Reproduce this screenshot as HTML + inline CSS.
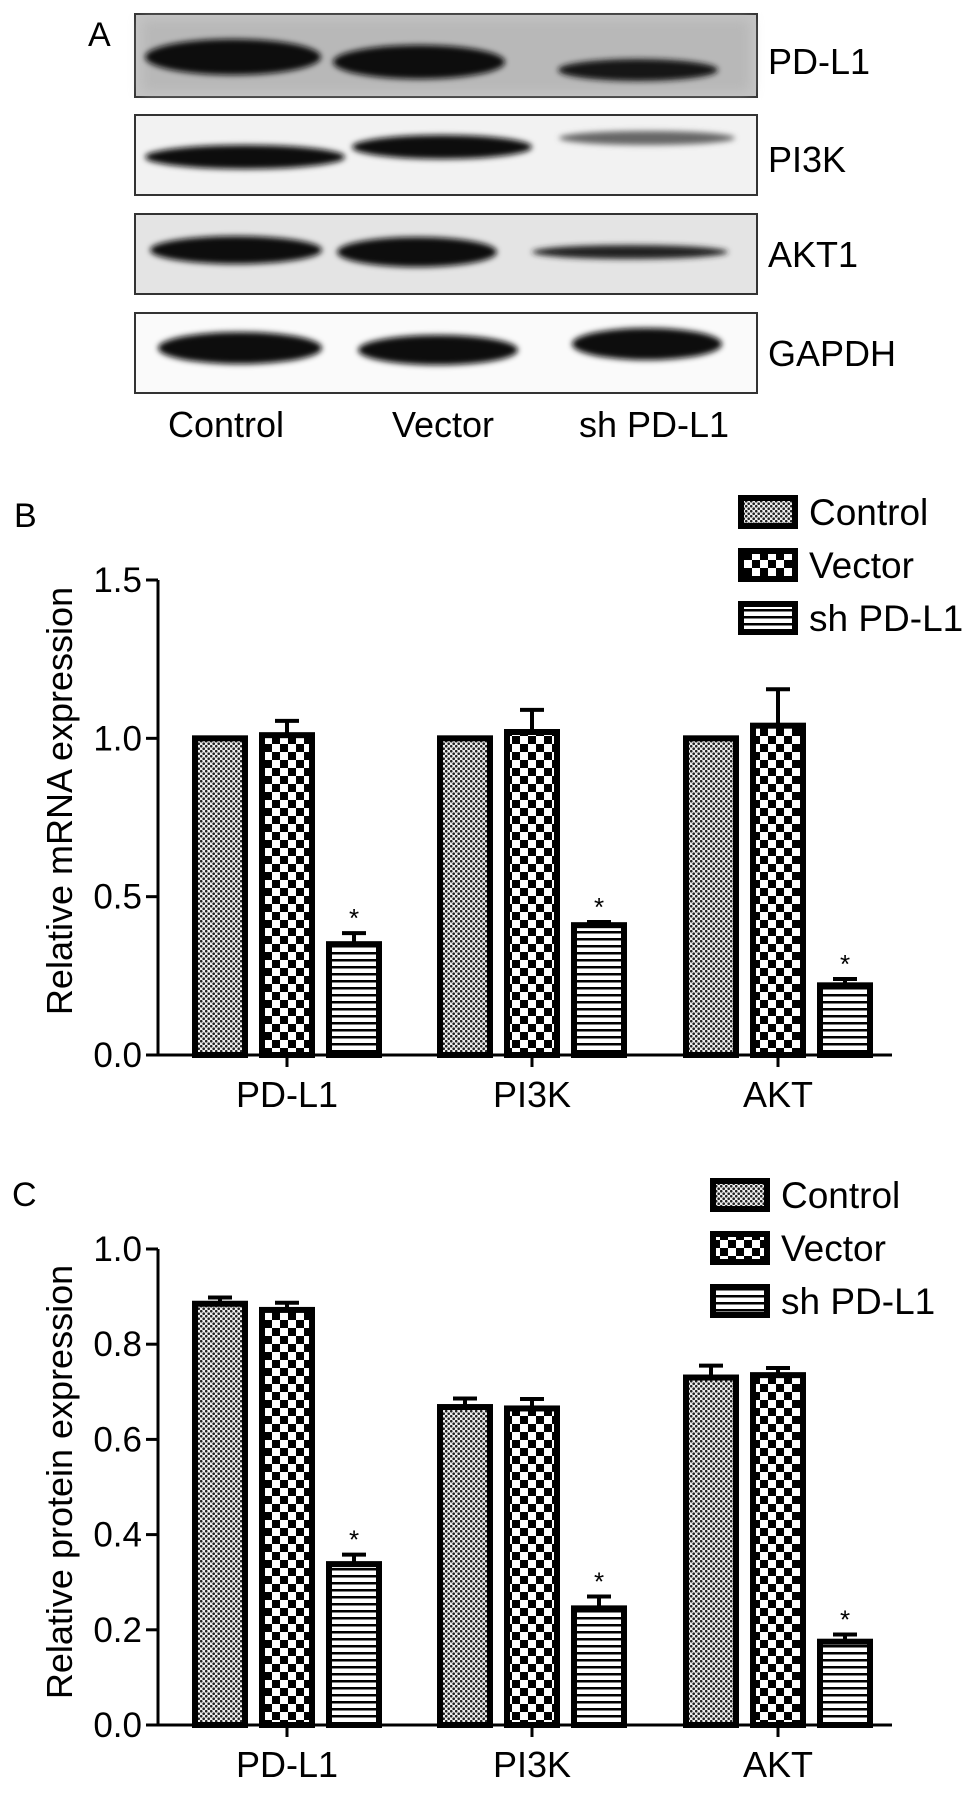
<!DOCTYPE html>
<html><head><meta charset="utf-8"><style>
html,body{margin:0;padding:0;background:#fff;}
svg{display:block;font-family:"Liberation Sans",Arial,sans-serif;}
</style></head><body>
<svg id="fig" width="969" height="1794" viewBox="0 0 969 1794" xmlns="http://www.w3.org/2000/svg">
<defs>
<pattern id="pCtrl" width="5" height="5" patternUnits="userSpaceOnUse"><rect width="5" height="5" fill="#eee"/><circle cx="1.2" cy="1.2" r="1.3" fill="#222"/><circle cx="3.7" cy="3.7" r="1.3" fill="#222"/></pattern>
<pattern id="pVec" width="16" height="16" patternUnits="userSpaceOnUse"><rect width="16" height="16" fill="#fff"/><rect width="8" height="8" fill="#000"/><rect x="8" y="8" width="8" height="8" fill="#000"/></pattern>
<pattern id="pSh" width="8" height="7" patternUnits="userSpaceOnUse"><rect width="8" height="7" fill="#fff"/><rect width="8" height="2.5" fill="#000"/></pattern>
<filter id="blur" x="-20%" y="-80%" width="140%" height="260%"><feGaussianBlur stdDeviation="3"/></filter>
<filter id="blur2"><feGaussianBlur stdDeviation="6"/></filter>
</defs>

<!-- Panel A -->
<text x="88" y="46" font-size="34">A</text>
<g>
<rect x="135" y="14" width="622" height="83" fill="#c4c4c4" stroke="#333" stroke-width="2"/>
<rect x="142" y="20" width="608" height="72" fill="#b8b8b8" filter="url(#blur2)"/>
<ellipse cx="233" cy="57" rx="88" ry="18" fill="#111" filter="url(#blur)"/>
<ellipse cx="419" cy="62" rx="86" ry="17" fill="#111" filter="url(#blur)"/>
<ellipse cx="638" cy="70" rx="80" ry="11" fill="#151515" filter="url(#blur)"/>
</g>
<text x="768" y="74" font-size="36">PD-L1</text>
<g>
<rect x="135" y="115" width="622" height="80" fill="#f2f2f2" stroke="#333" stroke-width="2"/>
<ellipse cx="245" cy="157" rx="100" ry="12" fill="#111" filter="url(#blur)"/>
<ellipse cx="442" cy="147" rx="90" ry="12" fill="#111" filter="url(#blur)"/>
<ellipse cx="647" cy="138" rx="88" ry="7" fill="#666" filter="url(#blur)"/>
</g>
<text x="768" y="172" font-size="36">PI3K</text>
<g>
<rect x="135" y="214" width="622" height="80" fill="#e4e4e4" stroke="#333" stroke-width="2"/>
<ellipse cx="236" cy="250" rx="86" ry="14" fill="#111" filter="url(#blur)"/>
<ellipse cx="417" cy="252" rx="80" ry="15" fill="#111" filter="url(#blur)"/>
<ellipse cx="630" cy="252" rx="98" ry="7" fill="#222" filter="url(#blur)"/>
</g>
<text x="768" y="267" font-size="36">AKT1</text>
<g>
<rect x="135" y="313" width="622" height="80" fill="#fafafa" stroke="#333" stroke-width="2"/>
<ellipse cx="240" cy="348" rx="82" ry="16" fill="#080808" filter="url(#blur)"/>
<ellipse cx="438" cy="350" rx="80" ry="15" fill="#080808" filter="url(#blur)"/>
<ellipse cx="647" cy="344" rx="75" ry="16" fill="#080808" filter="url(#blur)"/>
</g>
<text x="768" y="366" font-size="36">GAPDH</text>
<text x="226" y="437" font-size="36" text-anchor="middle">Control</text>
<text x="443" y="437" font-size="36" text-anchor="middle">Vector</text>
<text x="654" y="437" font-size="36" text-anchor="middle">sh PD-L1</text>

<text x="14" y="527" font-size="34">B</text>
<text x="12" y="1206" font-size="34">C</text>
<g id="chartB"></g>
<g id="chartC"></g>
</svg>
<script>
const categories = ["PD-L1", "PI3K", "AKT"];
const seriesNames = ["Control", "Vector", "sh PD-L1"];
const mrnaControl = [1.0, 1.0, 1.0];
const mrnaVector = [1.01, 1.02, 1.04];
const mrnaSh = [0.35, 0.41, 0.22];
const mrnaControlErr = [0, 0, 0];
const mrnaVectorErr = [0.045, 0.07, 0.115];
const mrnaShErr = [0.035, 0.01, 0.02];
const mrnaTicks = ["0.0", "0.5", "1.0", "1.5"];
const protControl = [0.885, 0.668, 0.73];
const protVector = [0.872, 0.665, 0.735];
const protSh = [0.338, 0.245, 0.175];
const protControlErr = [0.013, 0.018, 0.025];
const protVectorErr = [0.015, 0.02, 0.015];
const protShErr = [0.02, 0.025, 0.015];
const protTicks = ["0.0", "0.2", "0.4", "0.6", "0.8", "1.0"];
const NS = "http://www.w3.org/2000/svg";
function mk(parent, tag, attrs, text) {
  const e = document.createElementNS(NS, tag);
  for (const k in attrs) e.setAttribute(k, attrs[k]);
  if (text !== undefined) e.textContent = text;
  parent.appendChild(e);
  return e;
}
function drawChart(g, cfg) {
  const x0 = 158, x1 = 892;
  const yScale = v => cfg.y0 - (v / cfg.ymax) * (cfg.y0 - cfg.ytop);
  const groupStart = [195, 440, 686];
  const barW = 50, step = 67;
  const fills = ["url(#pCtrl)", "url(#pVec)", "url(#pSh)"];
  const values = [cfg.ctrl, cfg.vec, cfg.sh];
  const errs = [cfg.ctrlErr, cfg.vecErr, cfg.shErr];
  let a = mk(g, "line", {x1: x0, y1: cfg.ytop, x2: x0, y2: cfg.y0, stroke: "#000", "stroke-width": 3});
  
  
  a = mk(g, "line", {x1: x0 - 12, y1: cfg.y0, x2: x1, y2: cfg.y0, stroke: "#000", "stroke-width": 3});
  
  
  cfg.ticks.forEach(t => {
    const y = yScale(parseFloat(t));
    const l = mk(g, "line", {x1: x0 - 12, y1: y, x2: x0, y2: y, stroke: "#000", "stroke-width": 3});
    
    
    const tx = mk(g, "text", {x: x0 - 16, y: y + 12, "font-size": 35, "text-anchor": "end"}, t);
    
    
  });
  const title = mk(g, "text", {x: 0, y: 0, "font-size": 36, "text-anchor": "middle", transform: `translate(72,${cfg.titleY}) rotate(-90)`}, cfg.title);
  
  
  categories.forEach((c, i) => {
    const cx = groupStart[i] + step + barW / 2;
    const tk = mk(g, "line", {x1: cx, y1: cfg.y0, x2: cx, y2: cfg.y0 + 12, stroke: "#000", "stroke-width": 3});
    
    
    const lb = mk(g, "text", {x: cx, y: cfg.y0 + 52, "font-size": 36, "text-anchor": "middle"}, c);
    
    
    for (let s = 0; s < 3; s++) {
      const v = values[s][i], e = errs[s][i];
      const bx = groupStart[i] + s * step;
      const by = yScale(v);
      if (e > 0) {
        const ey = yScale(v + e);
        const el = mk(g, "path", {d: `M${bx + barW / 2},${by} V${ey} M${bx + barW / 2 - 12},${ey} H${bx + barW / 2 + 12}`, stroke: "#000", "stroke-width": 4, fill: "none"});
        
        
      }
      const r = mk(g, "rect", {x: bx, y: by, width: barW, height: cfg.y0 - by, fill: fills[s], stroke: "#000", "stroke-width": 6});
      
      
      if (s === 2) {
        const st = mk(g, "text", {x: bx + barW / 2, y: yScale(v + e) - 6, "font-size": 26, "text-anchor": "middle"}, "*");
        
        
      }
    }
  });
  seriesNames.forEach((n, s) => {
    const ly = cfg.legY + s * 53;
    const sw = mk(g, "rect", {x: cfg.legX, y: ly - 14, width: 54, height: 28, fill: fills[s], stroke: "#000", "stroke-width": 6});
    
    
    const lt = mk(g, "text", {x: cfg.legX + 68, y: ly + 13, "font-size": 37}, n);
    
    
  });
}
drawChart(document.getElementById("chartB"), {y0: 1055, ytop: 580, ymax: 1.5, ticks: mrnaTicks,
  ctrl: mrnaControl, vec: mrnaVector, sh: mrnaSh, ctrlErr: mrnaControlErr, vecErr: mrnaVectorErr, shErr: mrnaShErr,
  title: "Relative mRNA expression", titleY: 801, legX: 741, legY: 512});
drawChart(document.getElementById("chartC"), {y0: 1725, ytop: 1249, ymax: 1.0, ticks: protTicks,
  ctrl: protControl, vec: protVector, sh: protSh, ctrlErr: protControlErr, vecErr: protVectorErr, shErr: protShErr,
  title: "Relative protein expression", titleY: 1482, legX: 713, legY: 1195});
</script>
</body></html>
